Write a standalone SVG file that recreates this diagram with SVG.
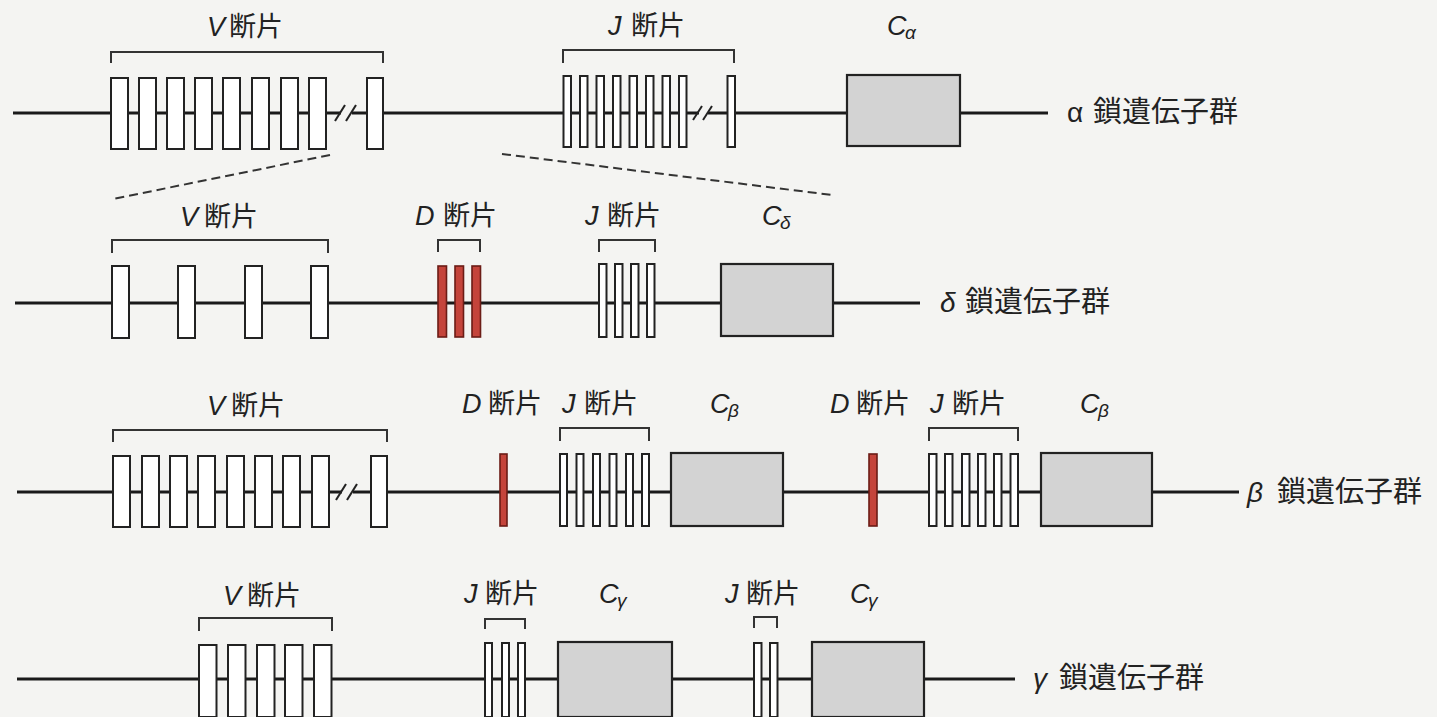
<svg xmlns="http://www.w3.org/2000/svg" width="1437" height="717" viewBox="0 0 1437 717">
<style>
.bg{fill:#f4f4f2}
.dna{stroke:#1a1a1a;stroke-width:2.8;fill:none}
.ex{fill:#ffffff;stroke:#222;stroke-width:2}
.d{fill:#c4443b;stroke:#6b1c16;stroke-width:1.6}
.c{fill:#d3d3d3;stroke:#222;stroke-width:2.2}
.br{fill:none;stroke:#333;stroke-width:2}
.sl{stroke:#222;stroke-width:2}
.dash{stroke:#333;stroke-width:2;stroke-dasharray:9 5;fill:none}
.lb{font-family:"Noto Sans CJK JP","Liberation Sans",sans-serif;font-size:27px;fill:#222}
.it{font-family:"Liberation Sans",sans-serif;font-style:italic;font-size:27px}
.sub{font-family:"Liberation Sans",sans-serif;font-style:italic;font-size:19px}
.gl{font-family:"Noto Sans CJK JP","Liberation Sans",sans-serif;font-size:29px;fill:#222}
.gk{font-family:"Liberation Sans",sans-serif;font-style:italic;font-size:28px}
.up{font-family:"Liberation Sans",sans-serif;font-size:28px}
</style>
<rect class="bg" x="0" y="0" width="1437" height="717"/>

<g id="backbones">
<path class="dna" d="M13 113 H341 M352 113 H699 M708 113 H1048"/>
<path class="dna" d="M15 303 H920"/>
<path class="dna" d="M17 492 H342 M353 492 H1239"/>
<path class="dna" d="M17 679 H1015"/>
</g>

<g id="connectors">
<line class="dash" x1="330" y1="155" x2="113" y2="199"/>
<line class="dash" x1="502" y1="154" x2="832" y2="195"/>
</g>

<!-- alpha -->
<g id="alpha-V">
<path class="br" d="M111 63 V52 H383 V63"/>
<rect class="ex" x="111" y="78" width="17" height="71"/>
<rect class="ex" x="139" y="78" width="17" height="71"/>
<rect class="ex" x="167" y="78" width="17" height="71"/>
<rect class="ex" x="195" y="78" width="17" height="71"/>
<rect class="ex" x="223" y="78" width="17" height="71"/>
<rect class="ex" x="252" y="78" width="17" height="71"/>
<rect class="ex" x="281" y="78" width="17" height="71"/>
<rect class="ex" x="309" y="78" width="17" height="71"/>
<line class="sl" x1="335" y1="121" x2="345" y2="105"/>
<line class="sl" x1="346" y1="121" x2="356" y2="105"/>
<rect class="ex" x="367" y="78" width="16" height="71"/>
<text class="lb" y="36"><tspan class="it" x="207">V</tspan><tspan x="229">断片</tspan></text>
</g>
<g id="alpha-J">
<path class="br" d="M563 63 V50 H734 V63"/>
<rect class="ex" x="563.5" y="76" width="7.5" height="71"/>
<rect class="ex" x="580" y="76" width="7.5" height="71"/>
<rect class="ex" x="596.5" y="76" width="7.5" height="71"/>
<rect class="ex" x="613" y="76" width="7.5" height="71"/>
<rect class="ex" x="629.5" y="76" width="7.5" height="71"/>
<rect class="ex" x="646" y="76" width="7.5" height="71"/>
<rect class="ex" x="662.5" y="76" width="7.5" height="71"/>
<rect class="ex" x="679" y="76" width="7.5" height="71"/>
<line class="sl" x1="693" y1="120" x2="702" y2="106"/>
<line class="sl" x1="703" y1="120" x2="712" y2="106"/>
<rect class="ex" x="727.5" y="76" width="7.5" height="71"/>
<text class="lb" y="35"><tspan class="it" x="608">J</tspan><tspan x="631">断片</tspan></text>
</g>
<g id="alpha-C">
<rect class="c" x="847" y="75" width="113" height="71"/>
<text class="lb" y="35"><tspan class="it" x="887">C</tspan><tspan class="sub" x="905" dy="4">α</tspan></text>
</g>
<g id="alpha-label">
<text class="gl" y="122"><tspan class="up" x="1067">α</tspan><tspan x="1093">鎖遺伝子群</tspan></text>
</g>

<!-- delta -->
<g id="delta-V">
<path class="br" d="M112 253 V240 H328 V253"/>
<rect class="ex" x="112" y="266" width="17" height="72"/>
<rect class="ex" x="178" y="266" width="17" height="72"/>
<rect class="ex" x="245" y="266" width="17" height="72"/>
<rect class="ex" x="311" y="266" width="17" height="72"/>
<text class="lb" y="226"><tspan class="it" x="180">V</tspan><tspan x="204">断片</tspan></text>
</g>
<g id="delta-D">
<path class="br" d="M438 252 V240 H480 V252"/>
<rect class="d" x="438" y="266" width="8.5" height="71"/>
<rect class="d" x="455" y="266" width="8.5" height="71"/>
<rect class="d" x="472" y="266" width="8.5" height="71"/>
<text class="lb" y="225"><tspan class="it" x="415">D</tspan><tspan x="443">断片</tspan></text>
</g>
<g id="delta-J">
<path class="br" d="M599 252 V240 H655 V252"/>
<rect class="ex" x="599" y="264" width="7.5" height="73"/>
<rect class="ex" x="615" y="264" width="7.5" height="73"/>
<rect class="ex" x="631" y="264" width="7.5" height="73"/>
<rect class="ex" x="647" y="264" width="7.5" height="73"/>
<text class="lb" y="225"><tspan class="it" x="585">J</tspan><tspan x="607">断片</tspan></text>
</g>
<g id="delta-C">
<rect class="c" x="721" y="264" width="112" height="72"/>
<text class="lb" y="225"><tspan class="it" x="762">C</tspan><tspan class="sub" x="780" dy="4">δ</tspan></text>
</g>
<g id="delta-label">
<text class="gl" y="312"><tspan class="gk" x="940">δ</tspan><tspan x="965">鎖遺伝子群</tspan></text>
</g>

<!-- beta -->
<g id="beta-V">
<path class="br" d="M113 442 V430 H387 V442"/>
<rect class="ex" x="113" y="456" width="17" height="71"/>
<rect class="ex" x="142" y="456" width="17" height="71"/>
<rect class="ex" x="170" y="456" width="17" height="71"/>
<rect class="ex" x="198" y="456" width="17" height="71"/>
<rect class="ex" x="227" y="456" width="17" height="71"/>
<rect class="ex" x="255" y="456" width="17" height="71"/>
<rect class="ex" x="283" y="456" width="17" height="71"/>
<rect class="ex" x="312" y="456" width="17" height="71"/>
<line class="sl" x1="336" y1="500" x2="346" y2="484"/>
<line class="sl" x1="347" y1="500" x2="357" y2="484"/>
<rect class="ex" x="371" y="456" width="16" height="71"/>
<text class="lb" y="415"><tspan class="it" x="207">V</tspan><tspan x="231">断片</tspan></text>
</g>
<g id="beta-D1">
<rect class="d" x="500" y="454" width="7" height="72"/>
<text class="lb" y="413"><tspan class="it" x="462">D</tspan><tspan x="488">断片</tspan></text>
</g>
<g id="beta-J1">
<path class="br" d="M560 441 V428 H649 V441"/>
<rect class="ex" x="560" y="454" width="7" height="72"/>
<rect class="ex" x="576.5" y="454" width="7" height="72"/>
<rect class="ex" x="593" y="454" width="7" height="72"/>
<rect class="ex" x="609.5" y="454" width="7" height="72"/>
<rect class="ex" x="626" y="454" width="7" height="72"/>
<rect class="ex" x="642" y="454" width="7" height="72"/>
<text class="lb" y="413"><tspan class="it" x="562">J</tspan><tspan x="584">断片</tspan></text>
</g>
<g id="beta-C1">
<rect class="c" x="671" y="453" width="112" height="73"/>
<text class="lb" y="413"><tspan class="it" x="710">C</tspan><tspan class="sub" x="728" dy="4">β</tspan></text>
</g>
<g id="beta-D2">
<rect class="d" x="869" y="454" width="8" height="72"/>
<text class="lb" y="413"><tspan class="it" x="830">D</tspan><tspan x="856">断片</tspan></text>
</g>
<g id="beta-J2">
<path class="br" d="M929 441 V428 H1018 V441"/>
<rect class="ex" x="929" y="454" width="7.5" height="72"/>
<rect class="ex" x="945" y="454" width="7.5" height="72"/>
<rect class="ex" x="962" y="454" width="7.5" height="72"/>
<rect class="ex" x="978" y="454" width="7.5" height="72"/>
<rect class="ex" x="994" y="454" width="7.5" height="72"/>
<rect class="ex" x="1010.5" y="454" width="7.5" height="72"/>
<text class="lb" y="413"><tspan class="it" x="930">J</tspan><tspan x="952">断片</tspan></text>
</g>
<g id="beta-C2">
<rect class="c" x="1041" y="453" width="111" height="73"/>
<text class="lb" y="413"><tspan class="it" x="1080">C</tspan><tspan class="sub" x="1098" dy="4">β</tspan></text>
</g>
<g id="beta-label">
<text class="gl" y="502"><tspan class="gk" x="1247">β</tspan><tspan x="1277">鎖遺伝子群</tspan></text>
</g>

<!-- gamma -->
<g id="gamma-V">
<path class="br" d="M199 631 V618 H332 V631"/>
<rect class="ex" x="199" y="645" width="17.5" height="72"/>
<rect class="ex" x="228" y="645" width="17.5" height="72"/>
<rect class="ex" x="257" y="645" width="17.5" height="72"/>
<rect class="ex" x="285" y="645" width="17.5" height="72"/>
<rect class="ex" x="314" y="645" width="17.5" height="72"/>
<text class="lb" y="605"><tspan class="it" x="223">V</tspan><tspan x="247">断片</tspan></text>
</g>
<g id="gamma-J1">
<path class="br" d="M485 629 V619 H525 V629"/>
<rect class="ex" x="485" y="643" width="7" height="74"/>
<rect class="ex" x="502" y="643" width="7" height="74"/>
<rect class="ex" x="518" y="643" width="7" height="74"/>
<text class="lb" y="603"><tspan class="it" x="464">J</tspan><tspan x="485">断片</tspan></text>
</g>
<g id="gamma-C1">
<rect class="c" x="558" y="642" width="114" height="75"/>
<text class="lb" y="603"><tspan class="it" x="599">C</tspan><tspan class="sub" x="617" dy="4">γ</tspan></text>
</g>
<g id="gamma-J2">
<path class="br" d="M754 628 V617 H777 V628"/>
<rect class="ex" x="754" y="643" width="7.5" height="74"/>
<rect class="ex" x="770" y="643" width="7.5" height="74"/>
<text class="lb" y="603"><tspan class="it" x="725">J</tspan><tspan x="746">断片</tspan></text>
</g>
<g id="gamma-C2">
<rect class="c" x="812" y="642" width="112" height="75"/>
<text class="lb" y="603"><tspan class="it" x="850">C</tspan><tspan class="sub" x="868" dy="4">γ</tspan></text>
</g>
<g id="gamma-label">
<text class="gl" y="688"><tspan class="gk" x="1033">γ</tspan><tspan x="1059">鎖遺伝子群</tspan></text>
</g>
</svg>
